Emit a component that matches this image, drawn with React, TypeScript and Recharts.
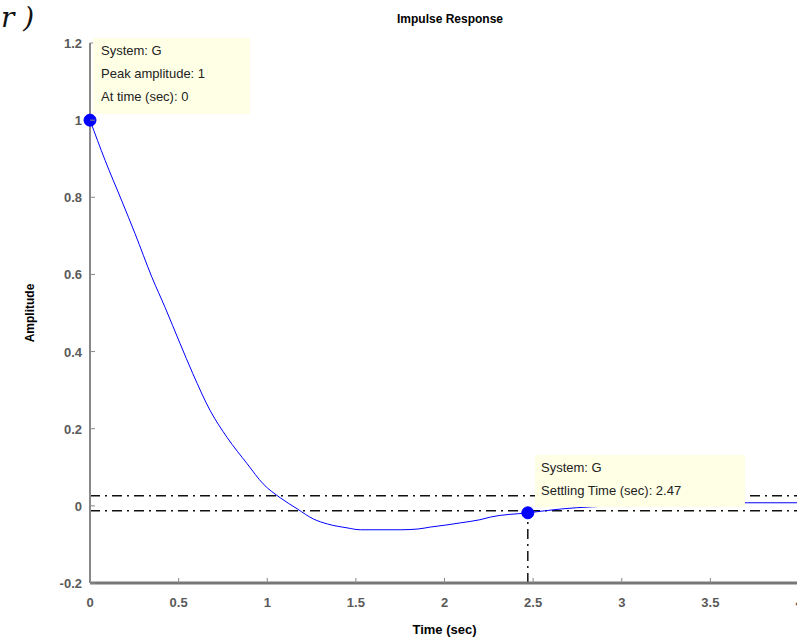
import { Line, LineChart, ReferenceDot, ReferenceLine, XAxis, YAxis } from "recharts";

// impulse response samples
const timeSec = [0, 0.085, 0.18, 0.254, 0.35, 0.424, 0.508, 0.58, 0.678, 0.774, 0.887, 0.977, 1.073, 1.17, 1.26, 1.34, 1.45, 1.525, 1.75, 1.85, 1.92, 2.02, 2.09, 2.2, 2.26, 2.47, 2.66, 3.0, 3.3, 3.71, 4.0];
const amplitude = [1, 0.896, 0.79, 0.706, 0.592, 0.514, 0.421, 0.343, 0.247, 0.177, 0.109, 0.057, 0.021, -0.008, -0.034, -0.047, -0.057, -0.062, -0.062, -0.06, -0.055, -0.049, -0.044, -0.036, -0.029, -0.018, -0.008, 0.001, 0.006, 0.008, 0.008];

const xTicks = [0, 0.5, 1, 1.5, 2, 2.5, 3, 3.5, 4];
const yTicks = [-0.2, 0, 0.2, 0.4, 0.6, 0.8, 1, 1.2];

const peak = { t: 0, amp: 1 };
const settling = { t: 2.47, amp: -0.018 };
const settleBand = [0.026, -0.013];

const data = timeSec.map((t, i) => ({ t, amp: amplitude[i] }));

const tickFont = { fontFamily: "Liberation Sans, Arial, sans-serif", fontSize: 13, fontWeight: 700, fill: "#5a5a5a" };
const boxText = { fontFamily: "Liberation Sans, Arial, sans-serif", fontSize: 13, color: "#222", lineHeight: "23px", whiteSpace: "nowrap" as const };
const dashDot = "10 5 2 5";

const BottomTick = ({ x, y, payload }: any) => (
  <g>
    <line x1={x} x2={x} y1={y} y2={y - 5} stroke="#888" strokeWidth={1} />
    <text x={x} y={y + 24} textAnchor="middle" {...tickFont}>{payload.value}</text>
  </g>
);

const TopTick = ({ x, y }: any) => <line x1={x} x2={x} y1={y} y2={y + 5} stroke="#888" strokeWidth={1} />;

const LeftTick = ({ x, y, payload }: any) => (
  <g>
    <line x1={x} x2={x + 5} y1={y} y2={y} stroke="#888" strokeWidth={1} />
    <text x={x - 8} y={y + 5} textAnchor="end" {...tickFont}>{payload.value}</text>
  </g>
);

export default function App() {
  return (
    <div style={{ position: "fixed", left: 0, top: 0, width: 797, height: 641, overflow: "hidden", background: "#fff" }}>
      <div style={{ position: "absolute", left: 1, top: 2, fontFamily: "DejaVu Serif, serif", fontStyle: "italic", fontSize: 28, lineHeight: "32px", color: "#111" }}>r )</div>
      <div style={{ position: "absolute", left: 0, width: 900, top: 12, textAlign: "center", fontFamily: "Liberation Sans, Arial, sans-serif", fontSize: 12, fontWeight: 700, color: "#000" }}>
        Impulse Response
      </div>
      <LineChart width={860} height={641} data={data} margin={{ top: 43, right: 61, bottom: 3, left: 30 }}>
        <XAxis
          dataKey="t"
          type="number"
          domain={[0, 4]}
          ticks={xTicks}
          allowDataOverflow
          height={55}
          tickSize={0}
          tickMargin={0}
          tickLine={false}
          axisLine={{ stroke: "#777", strokeWidth: 3 }}
          tick={<BottomTick />}
          label={{ value: "Time (sec)", position: "insideBottom", offset: 4, style: { fontFamily: "Liberation Sans, Arial, sans-serif", fontSize: 13, fontWeight: 700, fill: "#000" } }}
        />
        <XAxis
          xAxisId="top"
          orientation="top"
          dataKey="t"
          type="number"
          domain={[0, 4]}
          ticks={xTicks}
          height={0}
          tickSize={0}
          tickMargin={0}
          tickLine={false}
          axisLine={{ stroke: "#888", strokeWidth: 2 }}
          tick={<TopTick />}
        />
        <YAxis
          type="number"
          domain={[-0.2, 1.2]}
          ticks={yTicks}
          allowDataOverflow
          width={60}
          tickSize={0}
          tickMargin={0}
          tickLine={false}
          axisLine={{ stroke: "#888", strokeWidth: 2 }}
          tick={<LeftTick />}
          label={{ value: "Amplitude", angle: -90, position: "insideLeft", offset: 0, style: { textAnchor: "middle", fontFamily: "Liberation Sans, Arial, sans-serif", fontSize: 12, fontWeight: 700, fill: "#000" } }}
        />
        {settleBand.map((v) => (
          <ReferenceLine key={v} y={v} stroke="#111" strokeWidth={1.5} strokeDasharray={dashDot} />
        ))}
        <ReferenceLine
          segment={[{ x: settling.t, y: -0.2 }, { x: settling.t, y: settling.amp }]}
          stroke="#111"
          strokeWidth={1.5}
          strokeDasharray={dashDot}
        />
        <Line type="monotone" dataKey="amp" stroke="#0000ff" strokeWidth={1} dot={false} isAnimationActive={false} />
        <ReferenceDot x={peak.t} y={peak.amp} r={6} fill="#0000ff" stroke="#0000ff" />
        <ReferenceDot x={settling.t} y={settling.amp} r={6} fill="#0000ff" stroke="#0000ff" />
      </LineChart>
      <div style={{ position: "absolute", left: 93, top: 38, width: 157, height: 76, background: "#ffffe6", padding: "1px 0 0 8px", boxSizing: "border-box" }}>
        <div style={boxText}>System: G</div>
        <div style={boxText}>Peak amplitude: 1</div>
        <div style={boxText}>At time (sec): 0</div>
      </div>
      <div style={{ position: "absolute", left: 535, top: 455, width: 210, height: 52, background: "#ffffe6", padding: "1px 0 0 6px", boxSizing: "border-box" }}>
        <div style={boxText}>System: G</div>
        <div style={boxText}>Settling Time (sec): 2.47</div>
      </div>
    </div>
  );
}
